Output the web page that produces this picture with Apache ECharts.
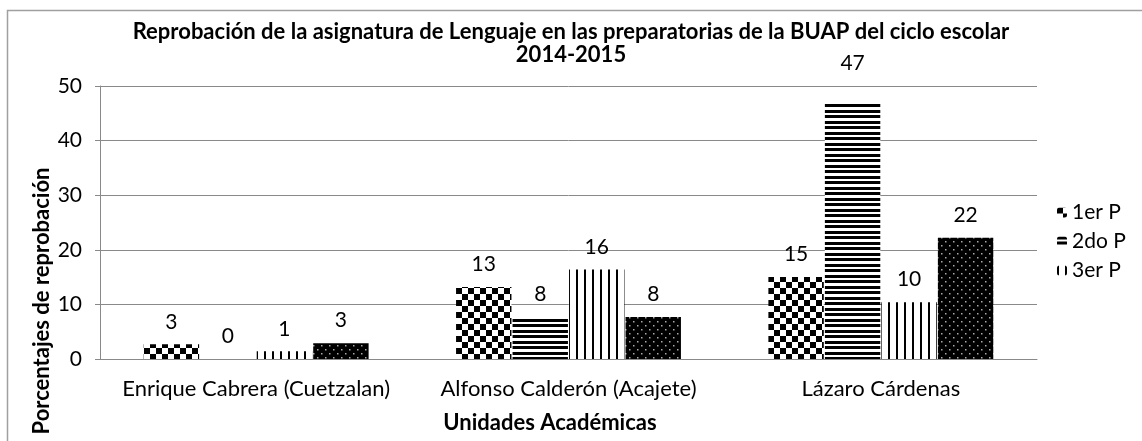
<!DOCTYPE html>
<html>
<head>
<meta charset="utf-8">
<script src="https://cdn.jsdelivr.net/npm/echarts@6/dist/echarts.min.js"></script>
<style>
  html, body { margin: 0; padding: 0; background: #fff; }
  #main { width: 1142px; height: 441px; }
</style>
</head>
<body>
<div id="main"></div>
<script>
const categories = ['Enrique Cabrera (Cuetzalan)', 'Alfonso Calderón (Acajete)', 'Lázaro Cárdenas'];
const primerP = [2.7, 13.2, 15];
const segundoP = [0, 7.7, 47];
const tercerP = [1.4, 16.4, 10.4];
const cuartoP = [2.9, 7.7, 22.2];
const yTicks = [0, 10, 20, 30, 40, 50];

const FONT = 'Lato, "Open Sans", sans-serif';

function tile(w, h, draw) {
  const c = document.createElement('canvas');
  c.width = w; c.height = h;
  const ctx = c.getContext('2d');
  ctx.fillStyle = '#fff';
  ctx.fillRect(0, 0, w, h);
  draw(ctx);
  return { image: c, repeat: 'repeat' };
}

const checker = tile(12, 12, ctx => {
  ctx.fillStyle = '#000';
  ctx.fillRect(0, 0, 6, 6);
  ctx.fillRect(6, 6, 6, 6);
});
const hLines = tile(4, 11, ctx => {
  ctx.fillStyle = '#000';
  ctx.fillRect(0, 0, 4, 3);
  ctx.fillRect(0, 5, 4, 3);
});
const vLines = tile(8, 4, ctx => {
  ctx.fillStyle = '#000';
  ctx.fillRect(0, 0, 2, 4);
});
const dots = tile(8, 8, ctx => {
  ctx.fillStyle = '#000';
  ctx.fillRect(0, 0, 8, 8);
  ctx.fillStyle = '#aaa';
  ctx.fillRect(1, 1, 1.5, 1.5);
  ctx.fillRect(5, 5, 1.5, 1.5);
});

// the tallest label sits a bit higher in the original
function withLift(data) {
  const top = Math.max(...data);
  return data.map(v => (v === top && v > 40) ? { value: v, label: { offset: [0, -17] } } : v);
}

function bar(name, data, fill) {
  return {
    name: name,
    type: 'bar',
    data: withLift(data),
    barGap: '2%',
    barCategoryGap: '28%',
    itemStyle: { color: fill },
    label: {
      show: true,
      position: 'top',
      distance: 12,
      color: '#000',
      fontSize: 21,
      fontFamily: FONT,
      formatter: p => Math.round(p.value)
    }
  };
}

const chart = echarts.init(document.getElementById('main'));
chart.setOption({
  animation: false,
  backgroundColor: '#fff',
  title: {
    text: 'Reprobación de la asignatura de Lenguaje en las preparatorias de la BUAP del ciclo escolar\n2014-2015',
    left: 'center',
    top: 15,
    textStyle: { fontFamily: FONT, fontSize: 22, fontWeight: 'bold', color: '#000', lineHeight: 23, align: 'center' }
  },
  legend: {
    data: ['1er P', '2do P', '3er P'],
    orient: 'vertical',
    left: 1052,
    top: 197,
    itemWidth: 10,
    itemHeight: 10,
    itemGap: 8,
    textStyle: { fontFamily: FONT, fontSize: 21, color: '#000', padding: [0, 0, 0, 0] }
  },
  grid: { left: 100, right: 105, top: 86, bottom: 82, containLabel: false },
  xAxis: {
    type: 'category',
    data: categories,
    axisLine: { lineStyle: { color: '#898989' } },
    axisTick: { show: false },
    axisLabel: { interval: 0, fontFamily: FONT, fontSize: 22, color: '#000', margin: 19 }
  },
  yAxis: {
    type: 'value',
    min: yTicks[0],
    max: yTicks[yTicks.length - 1],
    interval: 10,
    axisLine: { show: true, lineStyle: { color: '#898989' } },
    axisTick: { show: true, length: 5, lineStyle: { color: '#898989' } },
    axisLabel: { fontFamily: FONT, fontSize: 21, color: '#000', margin: 18 },
    splitLine: { lineStyle: { color: '#898989' } }
  },
  graphic: [
    {
      type: 'rect',
      shape: { x: 7.5, y: 10.5, width: 1300, height: 600 },
      style: { fill: 'none', stroke: '#a0a0a0', lineWidth: 1.5 },
      silent: true
    },
    {
      type: 'text',
      x: 550,
      y: 423,
      style: { text: 'Unidades Académicas', fontFamily: FONT, fontSize: 22, fontWeight: 'bold', fill: '#000', align: 'center', verticalAlign: 'middle' }
    },
    {
      type: 'text',
      x: 42,
      y: 301,
      rotation: Math.PI / 2,
      style: { text: 'Porcentajes de reprobación', fontFamily: FONT, fontSize: 22, fontWeight: 'bold', fill: '#000', align: 'center', verticalAlign: 'middle' }
    }
  ],
  series: [
    bar('1er P', primerP, checker),
    bar('2do P', segundoP, hLines),
    bar('3er P', tercerP, vLines),
    bar('4to P', cuartoP, dots)
  ]
});
</script>
</body>
</html>
